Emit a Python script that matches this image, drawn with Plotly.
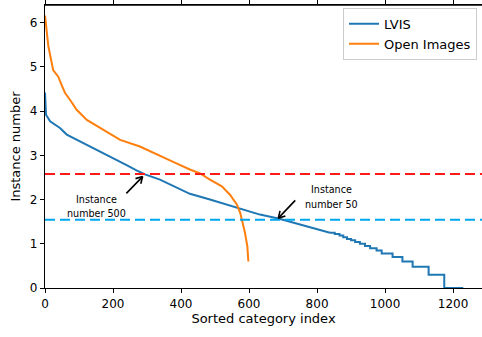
import plotly.graph_objects as go

# ---- data ----
lvis_idx = [0, 1, 3, 15, 44, 64, 103, 132, 171, 211, 240, 269, 294, 338, 368, 397, 426,
            485, 534, 593, 632, 686, 750, 800, 838]
lvis_val = [4.42, 4.05, 3.92, 3.77, 3.62, 3.47, 3.32, 3.20, 3.05, 2.90, 2.78, 2.66, 2.57,
            2.45, 2.34, 2.23, 2.13, 2.00, 1.89, 1.74, 1.66, 1.57, 1.43, 1.33, 1.25]
lvis_tail_idx = [838, 852, 866, 877, 888, 900, 912, 926, 941, 956, 975, 990, 1022, 1051,
                 1081, 1128, 1174, 1230]
lvis_tail_val = [1.25, 1.22, 1.19, 1.15, 1.11, 1.08, 1.04, 1.00, 0.95, 0.90, 0.85, 0.78,
                 0.70, 0.60, 0.48, 0.30, 0.0, 0.0]

oi_idx = [0, 2, 10, 24, 39, 49, 59, 75, 93, 123, 162, 221, 279, 338, 380, 426, 456,
          485, 520, 544, 564, 574, 581, 588, 595, 598]
oi_val = [6.16, 6.0, 5.46, 4.93, 4.78, 4.59, 4.41, 4.24, 4.03, 3.80, 3.62, 3.35, 3.20,
          2.98, 2.84, 2.68, 2.59, 2.45, 2.30, 2.11, 1.89, 1.70, 1.48, 1.25, 0.94, 0.60]

line_500 = 2.58
line_50 = 1.545

x_ticks = [0, 200, 400, 600, 800, 1000, 1200]
y_ticks = [0, 1, 2, 3, 4, 5, 6]
y_max = 6.40

BLUE = "#1f77b4"
ORANGE = "#ff7f0e"
FONT = "DejaVu Sans"

fig = go.Figure()
fig.add_trace(go.Scatter(x=lvis_idx, y=lvis_val, mode="lines", name="LVIS",
                         line=dict(color=BLUE, width=2)))
fig.add_trace(go.Scatter(x=lvis_tail_idx, y=lvis_tail_val, mode="lines", name="LVIS",
                         line=dict(color=BLUE, width=2, shape="hv"),
                         showlegend=False))
fig.add_trace(go.Scatter(x=oi_idx, y=oi_val, mode="lines", name="Open Images",
                         line=dict(color=ORANGE, width=2)))

fig.add_shape(type="line", xref="paper", x0=0, x1=1, yref="y", y0=line_500, y1=line_500,
              line=dict(color="#ff1a1a", width=2, dash="10px,5px"))
fig.add_shape(type="line", xref="paper", x0=0, x1=1, yref="y", y0=line_50, y1=line_50,
              line=dict(color="#00a6ed", width=2, dash="10px,5px"))
# top spine (frame edge)
fig.add_shape(type="line", xref="paper", x0=0, x1=1, yref="y", y0=y_max, y1=y_max,
              line=dict(color="black", width=1.5), layer="above")

def arrow(hx, hy, tx, ty, b1, b2):
    for (ax, ay) in [(tx, ty), b1, b2]:
        fig.add_annotation(x=hx, y=hy, text="", showarrow=True, arrowhead=0,
                           arrowwidth=1.6, arrowcolor="black", ax=ax, ay=ay,
                           standoff=0, startstandoff=0)

arrow(287, 2.52, -17.7, 18.3, (-8.6, 2.5), (-2.2, 8.7))
arrow(686, 1.58, 18.4, -19.3, (8.6, -2.5), (2.1, -8.7))

txtfont = dict(family=FONT, size=9.6, color="black")
for (tx, ty, t) in [(152, 2.0, "Instance"), (152, 1.68, "number 500"),
                    (843, 2.22, "Instance"), (843, 1.885, "number 50")]:
    fig.add_annotation(x=tx, y=ty, text=t, showarrow=False, font=txtfont,
                       xanchor="center", yanchor="middle")

fig.update_layout(
    width=482, height=337,
    margin=dict(l=45, r=0, t=5, b=49, autoexpand=False),
    paper_bgcolor="white", plot_bgcolor="white",
    font=dict(family=FONT, size=12, color="black"),
    legend=dict(x=0.9886, y=0.99, xanchor="right", yanchor="top",
                bordercolor="#cccccc", borderwidth=1, tracegroupgap=0,
                bgcolor="rgba(255,255,255,0.85)", font=dict(size=13, family=FONT)),
    xaxis=dict(range=[0, 1285], tickvals=x_ticks, showgrid=False, zeroline=False,
               showline=True, linecolor="black", linewidth=1.2, mirror="all",
               ticks="outside", ticklen=4, tickcolor="black",
               title=dict(text="Sorted category index", font=dict(size=13), standoff=4)),
    yaxis=dict(range=[0, y_max], tickvals=y_ticks, showgrid=False, zeroline=False,
               showline=True, linecolor="black", linewidth=1.2,
               ticks="outside", ticklen=4, tickcolor="black",
               title=dict(text="Instance number", font=dict(size=13), standoff=6)),
)

fig.write_html(
    "out.html", config={"displayModeBar": False},
    post_script=("document.body.style.margin='0';"
                 "document.documentElement.style.overflow='hidden';"
                 "document.body.style.overflow='hidden';"
                 "window.scrollTo(0,0);"))
